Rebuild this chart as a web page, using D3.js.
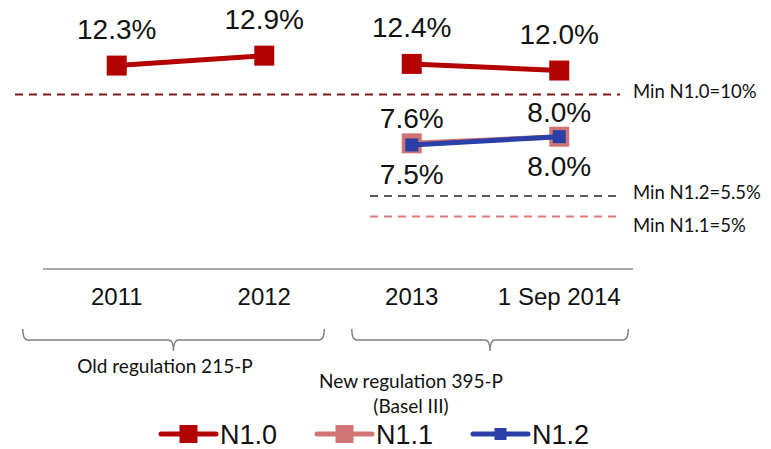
<!DOCTYPE html>
<html>
<head>
<meta charset="utf-8">
<script src="https://cdn.jsdelivr.net/npm/d3@7"></script>
<style>
  body { margin: 0; background: #fff; }
  svg { display: block; }
</style>
</head>
<body>
<div id="chart"></div>
<script>
// capital adequacy ratios, 2011 - 1 Sep 2014
var categories = ['2011', '2012', '2013', '1 Sep 2014']
var n10 = [12.3, 12.9, 12.4, 12.0]
var n11 = [null, null, 7.6, 8.0]
var n12 = [null, null, 7.5, 8.0]
var minLevels = [10, 5.5, 5]
var minLabels = ['Min N1.0=10%', 'Min N1.2=5.5%', 'Min N1.1=5%']
var groupLabels = [['Old regulation 215-P'], ['New regulation 395-P', '(Basel III)']]
var groupCats = [['2011', '2012'], ['2013', '1 Sep 2014']]
var seriesNames = ['N1.0', 'N1.1', 'N1.2']

var width = 771, height = 449
var red = '#b30000', pink = '#d37474', blue = '#2a40a8'

var svg = d3.select('#chart').append('svg')
    .attr('width', width)
    .attr('height', height)

var x = d3.scaleBand().domain(categories).range([43, 633])
var y = d3.scaleLinear().domain([0, 13]).range([269, 54])
// the minimum lines are annotations, not on the value scale
var yMin = d3.scaleLinear().domain([5, 5.5, 10]).range([216.5, 196, 94.5])

var cx = function (c) { return x(c) + x.bandwidth() / 2 }

function toPoints(vals) {
    return categories.map(function (c, i) { return {cat: c, v: vals[i]} })
        .filter(function (d) { return d.v != null })
}

// min lines
var minColors = ['#7b1a1a', '#595959', '#e07a7a']
var minX = [[15, 620], [370, 617], [370, 617]]
minLevels.forEach(function (m, i) {
    svg.append('line')
        .attr('x1', minX[i][0]).attr('x2', minX[i][1])
        .attr('y1', yMin(m)).attr('y2', yMin(m))
        .attr('stroke', minColors[i])
        .attr('stroke-width', 2)
        .attr('stroke-dasharray', '8,6')
})
svg.selectAll('.minlabel').data(minLevels).enter().append('text')
    .attr('class', 'minlabel')
    .attr('x', 633)
    .attr('y', function (d, i) { return yMin(d) + (i == 2 ? 9 : -3) })
    .attr('dy', '0.35em')
    .attr('font-family', 'Lato, sans-serif')
    .attr('font-size', 18.5)
    .attr('fill', '#111')
    .text(function (d, i) { return minLabels[i] })

// series
var series = [
    {name: seriesNames[0], data: toPoints(n10), color: red, size: 20, lw: 5, dy: -27},
    {name: seriesNames[1], data: toPoints(n11), color: pink, size: 20, lw: 5, dy: -15},
    {name: seriesNames[2], data: toPoints(n12), color: blue, size: 13, lw: 5, dy: 39}
]

var line = d3.line().x(function (d) { return cx(d.cat) }).y(function (d) { return y(d.v) })

series.forEach(function (s, k) {
    var g = svg.append('g')
    if (k == 0) {
        g.append('path').datum(s.data.slice(0, 2)).attr('d', line)
            .attr('fill', 'none').attr('stroke', s.color).attr('stroke-width', s.lw)
        g.append('path').datum(s.data.slice(2)).attr('d', line)
            .attr('fill', 'none').attr('stroke', s.color).attr('stroke-width', s.lw)
    } else {
        g.append('path').datum(s.data).attr('d', line)
            .attr('fill', 'none').attr('stroke', s.color).attr('stroke-width', s.lw)
    }
    g.selectAll('rect').data(s.data).enter().append('rect')
        .attr('x', function (d) { return cx(d.cat) - s.size / 2 })
        .attr('y', function (d) { return y(d.v) - s.size / 2 })
        .attr('width', s.size).attr('height', s.size)
        .attr('fill', s.color)
})

series.forEach(function (s) {
    svg.selectAll(null).data(s.data).enter().append('text')
        .attr('x', function (d) { return cx(d.cat) })
        .attr('y', function (d) { return y(d.v) + s.dy })
        .attr('text-anchor', 'middle')
        .attr('font-family', 'Liberation Sans, Arial, sans-serif')
        .attr('font-size', 28)
        .attr('fill', '#111')
        .text(function (d) { return d.v.toFixed(1) + '%' })
})

// category axis
svg.append('line')
    .attr('x1', x.range()[0]).attr('x2', x.range()[1])
    .attr('y1', y(0)).attr('y2', y(0))
    .attr('stroke', '#8c8c8c').attr('stroke-width', 1.5)

svg.selectAll('.cat').data(categories).enter().append('text')
    .attr('class', 'cat')
    .attr('x', function (d) { return cx(d) })
    .attr('y', 305)
    .attr('text-anchor', 'middle')
    .attr('font-family', 'Liberation Sans, Arial, sans-serif')
    .attr('font-size', 24)
    .attr('fill', '#111')
    .text(function (d) { return d })

// regulation brackets
var pads = [[-94, 60], [-60, 69]]
var textX = [165, 411]
groupCats.forEach(function (gc, i) {
    var x0 = cx(gc[0]) + pads[i][0], x1 = cx(gc[1]) + pads[i][1]
    var mid = (x0 + x1) / 2, top = 329, bot = 340, tip = 351
    var p = d3.path()
    p.moveTo(x0, top)
    p.quadraticCurveTo(x0, bot, x0 + 5, bot)
    p.lineTo(mid - 5, bot)
    p.quadraticCurveTo(mid, bot, mid, tip)
    p.moveTo(mid, tip)
    p.quadraticCurveTo(mid, bot, mid + 5, bot)
    p.lineTo(x1 - 5, bot)
    p.quadraticCurveTo(x1, bot, x1, top)
    svg.append('path').attr('d', p.toString())
        .attr('fill', 'none').attr('stroke', '#7f7f7f').attr('stroke-width', 1.5)

    var t = svg.append('text')
        .attr('x', textX[i])
        .attr('y', i == 0 ? 373 : 388)
        .attr('text-anchor', 'middle')
        .attr('font-family', 'Lato, sans-serif')
        .attr('font-size', 19)
        .attr('fill', '#111')
    groupLabels[i].forEach(function (l, j) {
        t.append('tspan').attr('x', textX[i]).attr('dy', j == 0 ? 0 : 25).text(l)
    })
})

// legend
var legX = [161, 317, 473]
series.forEach(function (s, i) {
    var g = svg.append('g').attr('transform', 'translate(' + legX[i] + ',434)')
    g.append('line').attr('x1', 0).attr('x2', 55).attr('y1', 0).attr('y2', 0)
        .attr('stroke', s.color).attr('stroke-width', 5).attr('stroke-linecap', 'round')
    var ms = i == 2 ? 12 : 18
    g.append('rect').attr('x', 27.5 - ms / 2).attr('y', -ms / 2)
        .attr('width', ms).attr('height', ms).attr('fill', s.color)
    g.append('text').attr('x', 59).attr('y', 0).attr('dy', '0.36em')
        .attr('font-family', 'Liberation Sans, Arial, sans-serif')
        .attr('font-size', 27).attr('fill', '#111')
        .text(s.name)
})
</script>
</body>
</html>
